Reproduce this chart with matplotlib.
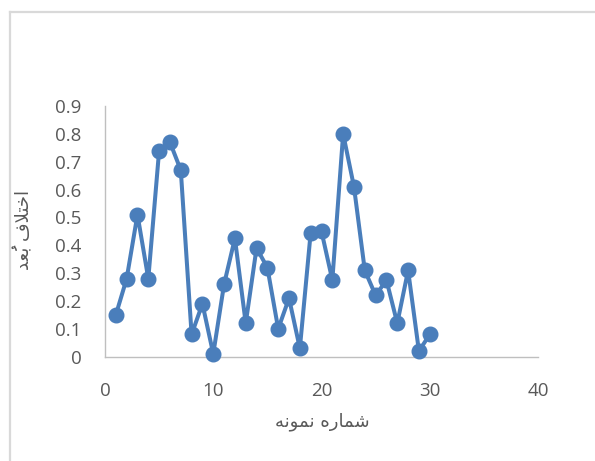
import matplotlib
matplotlib.use("Agg")
import matplotlib.pyplot as plt
from matplotlib.lines import Line2D

# data
sample_no = list(range(1, 31))
diff_values = [0.15, 0.28, 0.51, 0.28, 0.74, 0.77, 0.67, 0.08, 0.19, 0.01,
               0.26, 0.425, 0.12, 0.39, 0.32, 0.10, 0.21, 0.03, 0.445, 0.45,
               0.275, 0.80, 0.61, 0.31, 0.22, 0.275, 0.12, 0.31, 0.02, 0.08]
x_ticks = [0, 10, 20, 30, 40]
y_ticks = [0, 0.1, 0.2, 0.3, 0.4, 0.5, 0.6, 0.7, 0.8, 0.9]
y_tick_labels = ["0", "0.1", "0.2", "0.3", "0.4", "0.5", "0.6", "0.7", "0.8", "0.9"]

# Arabic labels in shaped presentation forms, visual (LTR) order
x_label = "\uFEEA\uFEE7\uFEEE\uFEE4\uFEE7 \uFEE9\uFEAD\uFE8E\uFEE4\uFEB7"   # شماره نمونه
y_label = "\uFEAA\uFECC\u064F\uFE91 \uFED1\uFEFC\uFE98\uFEA7\uFE8D"       # اختلاف بُعد

W, H = 595, 461
fig = plt.figure(figsize=(W / 100, H / 100), dpi=100)
fig.patch.set_facecolor("white")

# outer frame lines (left and top)
fig.add_artist(Line2D([10 / W, 10 / W], [0, 1 - 12 / H], transform=fig.transFigure,
                      color="#d9d9d9", lw=1.6))
fig.add_artist(Line2D([10 / W, 1], [1 - 12 / H, 1 - 12 / H], transform=fig.transFigure,
                      color="#d9d9d9", lw=1.6))

left, right = 105 / W, 538 / W
bottom, top = 1 - 356.7 / H, 1 - 106 / H
ax = fig.add_axes([left, bottom, right - left, top - bottom])

color = "#4a7ebb"
ax.plot(sample_no, diff_values, color=color, lw=2.9, marker="o", markersize=10.5,
        markerfacecolor=color, markeredgecolor=color, clip_on=False, zorder=3)

ax.set_xlim(0, 40)
ax.set_ylim(0, 0.9)
ax.set_xticks(x_ticks)
ax.set_yticks(y_ticks)
ax.set_yticklabels(y_tick_labels)

for s in ["top", "right"]:
    ax.spines[s].set_visible(False)
for s in ["left", "bottom"]:
    ax.spines[s].set_color("#bfbfbf")
    ax.spines[s].set_linewidth(1.0)

ax.tick_params(axis="both", length=0, labelsize=13.5, labelcolor="#595959")
ax.tick_params(axis="y", pad=17)
ax.tick_params(axis="x", pad=18)
for lbl in ax.get_xticklabels() + ax.get_yticklabels():
    lbl.set_fontfamily("Open Sans")

fig.text(322 / W, 1 - 422 / H, x_label, ha="center", va="center",
         fontsize=13, color="#595959", family=["DejaVu Sans"])
fig.text(24 / W, 1 - 230 / H, y_label, ha="center", va="center", rotation=90,
         fontsize=13, color="#595959", family=["DejaVu Sans"])

fig.savefig("out.png", dpi=100, facecolor="white")
